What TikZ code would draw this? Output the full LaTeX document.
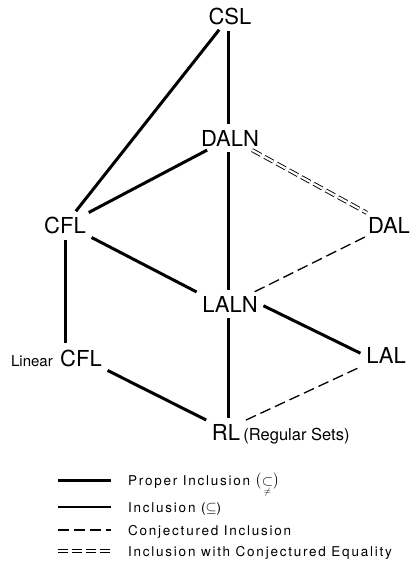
\documentclass[tikz,border=0pt]{standalone}
\usepackage{amsmath,amssymb}
\usepackage{fontspec}
\setmainfont{TeX Gyre Heros}
\newfontfamily\legfont[LetterSpace=13]{TeX Gyre Heros}
\begin{document}
\begin{tikzpicture}[x=1pt,y=-1pt,
  lang/.style={inner sep=2pt, font=\fontsize{22}{24}\selectfont},
  proper/.style={line width=3pt, shorten <=4pt, shorten >=4pt},
  incl/.style={line width=1.3pt},
  conj/.style={line width=1.3pt, dash pattern=on 11pt off 5pt, shorten <=4pt, shorten >=4pt},
  conjeq/.style={line width=0.9pt, double distance=2.2pt, dash pattern=on 10pt off 4pt, shorten <=4pt, shorten >=4pt},
  legtext/.style={anchor=base west, inner sep=0pt, font=\legfont\fontsize{13.5}{15}\selectfont},
]
\useasboundingbox (0,0) rectangle (411,562);

% languages
\node[lang] (csl)  at (230,16)  {CSL};
\node[lang] (daln) at (230,138) {DALN};
\node[lang] (cfl)  at (65,225)  {CFL};
\node[lang] (dal)  at (389,225) {DAL};
\node[lang] (laln) at (230,304) {LALN};
\node[lang] (lcfl) at (81,358)  {CFL};
\node[anchor=base east, inner sep=0pt, font=\fontsize{15}{17}\selectfont] (lin) at ([xshift=-5pt]lcfl.base west) {Linear};
\node[lang] (lal)  at (386,355) {LAL};
\node[lang] (rl)   at (226,432) {RL};
\node[anchor=base west, inner sep=0pt, font=\fontsize{16.5}{18}\selectfont] (rs) at ([xshift=1pt]rl.base east) {(Regular Sets)};

% relations
\draw[proper] (csl) -- (cfl);
\draw[proper] ([xshift=-1.5pt]csl.south) -- ([xshift=-1.5pt]csl.south |- daln.north);
\draw[proper] (daln) -- (cfl);
\draw[conjeq] (daln) -- (dal);
\draw[proper] ([xshift=-1.5pt]daln.south) -- ([xshift=-1.5pt]daln.south |- laln.north);
\draw[proper] (cfl.south east) -- (laln.north west);
\draw[conj] (dal) -- (laln);
\draw[proper] (laln.east) -- (lal.west);
\draw[proper] (cfl.south) -- (cfl.south |- lcfl.north);
\draw[proper] (lcfl.south east) -- (rl.north west);
\draw[proper] ([xshift=-2pt]laln.south) -- ([xshift=-2pt]laln.south |- rl.north);
\draw[conj] (rl.north east) -- (lal.south west);

% legend
\coordinate (a1) at (58,480); \coordinate (b1) at (111,480);
\coordinate (a2) at (58,507); \coordinate (b2) at (111,507);
\coordinate (a3) at (58,530); \coordinate (b3) at (111,530);
\coordinate (a4) at (58,551); \coordinate (b4) at (111,551);
\draw[line width=3pt] (a1) -- (b1);
\draw[incl] (a2) -- (b2);
\draw[line width=1.3pt, dash pattern=on 11pt off 5pt] (a3) -- (b3);
\draw[line width=0.9pt, double distance=2.2pt, dash pattern=on 10pt off 4pt] (a4) -- (b4);
\node[legtext] (t1) at (128,485) {Proper Inclusion $\bigl(\underset{\neq}{\subset}\bigr)$};
\node[legtext] (t2) at (128,512) {Inclusion ($\subseteq$)};
\node[legtext] (t3) at (128,535) {Conjectured Inclusion};
\node[legtext] (t4) at (128,556) {Inclusion with Conjectured Equality};
\end{tikzpicture}
\end{document}
